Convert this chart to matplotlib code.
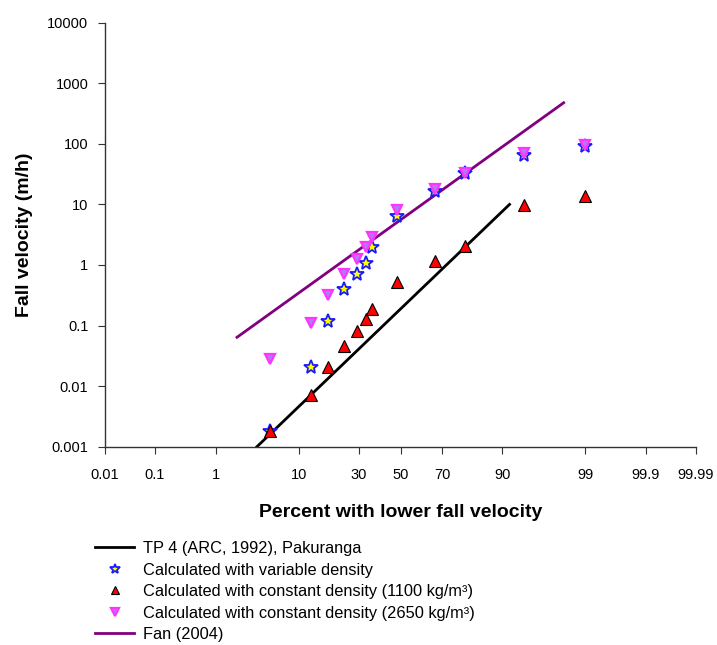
import numpy as np
import matplotlib
matplotlib.use('Agg')
from matplotlib import pyplot as plt
from statistics import NormalDist

plt.rcParams['font.family'] = ['Liberation Sans', 'DejaVu Sans']

# percent with lower fall velocity for the measured points
pct = [5, 13, 18, 24, 29, 33, 36, 48, 67, 79, 94, 99]

# fall velocities (m/h)
v_variable = [0.0018, 0.021, 0.119, 0.40, 0.71, 1.09, 2.0, 6.4, 16.6, 32.6, 65, 92]
v_1100 = [0.0018, 0.0072, 0.0205, 0.046, 0.082, 0.127, 0.186, 0.52, 1.16, 2.08, 9.8, 13.8]
v_2650 = [0.028, 0.112, 0.32, 0.71, 1.27, 1.96, 2.9, 8.1, 18, 33, 70, 95]

# lines (end points)
tp4_pct = [3.54, 91.5]
tp4_v = [0.001, 10]
fan_pct = [1.98, 98.0]
fan_v = [0.064, 477]

xticks = [0.01, 0.1, 1, 10, 30, 50, 70, 90, 99, 99.9, 99.99]
xticklabels = ['0.01', '0.1', '1', '10', '30', '50', '70', '90', '99', '99.9', '99.99']
yticks = [0.001, 0.01, 0.1, 1, 10, 100, 1000, 10000]
yticklabels = ['0.001', '0.01', '0.1', '1', '10', '100', '1000', '10000']

nd = NormalDist()
_inv = np.vectorize(lambda p: nd.inv_cdf(min(max(p / 100.0, 1e-9), 1 - 1e-9)), otypes=[float])
_cdf = np.vectorize(lambda z: nd.cdf(z) * 100.0, otypes=[float])


def forward(p):
    return _inv(np.asarray(p, dtype=float))


def inverse(z):
    return _cdf(np.asarray(z, dtype=float))


fig = plt.figure(figsize=(7.17, 6.45), dpi=100)
ax = fig.add_axes([105 / 717, 1 - 446.7 / 645, (696 - 105) / 717, (446.7 - 22.7) / 645])
ax.set_xscale('function', functions=(forward, inverse))
ax.set_yscale('log')

ax.plot(tp4_pct, tp4_v, color='black', lw=2, label='TP 4 (ARC, 1992), Pakuranga', zorder=2)
ax.plot(pct, v_variable, linestyle='none', marker='*', ms=10, mfc='yellow', mec='#1a1aff',
        mew=1.3, label='Calculated with variable density', zorder=3)
ax.plot(pct, v_1100, linestyle='none', marker='^', ms=8, mfc='red', mec='black',
        mew=0.8, label='Calculated with constant density (1100 kg/m³)', zorder=3)
ax.plot(pct, v_2650, linestyle='none', marker='v', ms=7.5, mfc='#b07cf5', mec='#ff33ff',
        mew=1.6, label='Calculated with constant density (2650 kg/m³)', zorder=4)
ax.plot(fan_pct, fan_v, color='purple', lw=2, label='Fan (2004)', zorder=2)

ax.set_xlim(0.01, 99.99)
ax.set_ylim(0.001, 10000)
ax.set_xticks(xticks)
ax.set_xticklabels(xticklabels)
ax.set_yticks(yticks)
ax.set_yticklabels(yticklabels)
ax.minorticks_off()
ax.tick_params(axis='both', labelsize=10.5, length=5, color='#333333', direction='out')
ax.tick_params(axis='x', pad=10)
ax.tick_params(axis='y', pad=7)
ax.spines['top'].set_visible(False)
ax.spines['right'].set_visible(False)
for s in ['left', 'bottom']:
    ax.spines[s].set_color('#333333')
    ax.spines[s].set_linewidth(1)

ax.set_xlabel('Percent with lower fall velocity', fontsize=14, fontweight='bold', labelpad=16)
ax.set_ylabel('Fall velocity (m/h)', fontsize=14, fontweight='bold')
ax.yaxis.set_label_coords(-0.122, 0.5)

ax.legend(loc='upper left', bbox_to_anchor=(95 / 717, 1 - 541 / 645), bbox_transform=fig.transFigure,
          frameon=False, fontsize=11.8, handlelength=2.4, handletextpad=0.55, labelspacing=0.4,
          borderpad=0, borderaxespad=0, markerscale=0.7)

fig.savefig('out.png', dpi=100)
